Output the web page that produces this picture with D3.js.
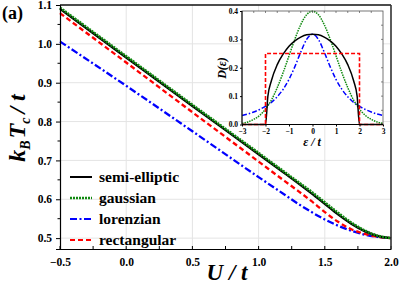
<!DOCTYPE html>
<html>
  <head>
    <meta charset="UTF-8" />
    <style>
      body { margin: 0; background: #fff; }
      svg { display: block; }
      svg text { font-family: "Liberation Serif", "Times New Roman", "DejaVu Serif", serif !important; font-weight: bold; fill: #000; }
    </style>
  </head>
  <body>
    <svg width="403" height="285"></svg>

    <script src="https://d3js.org/d3.v7.min.js"></script>
    <script>
      // main panel: k_B T_c / t against U / t
      let U = [-0.5, 0, 0.5, 1.0, 1.2, 1.3, 1.4, 1.5, 1.6, 1.7, 1.8, 1.9, 2.0];
      let semiTc = [1.090, 0.965, 0.840, 0.716, 0.666, 0.641, 0.615, 0.588, 0.561, 0.537, 0.518, 0.505, 0.500];
      let gaussTc = [1.093, 0.968, 0.843, 0.719, 0.669, 0.644, 0.619, 0.592, 0.565, 0.540, 0.520, 0.506, 0.500];
      let lorenTc = [1.006, 0.892, 0.775, 0.657, 0.611, 0.588, 0.567, 0.548, 0.532, 0.519, 0.509, 0.503, 0.500];
      let rectTc = [1.079, 0.952, 0.824, 0.697, 0.646, 0.621, 0.595, 0.567, 0.542, 0.523, 0.511, 0.503, 0.500];

      // inset: density of states D(eps)
      let eps = [-3, -2.75, -2.5, -2.25, -2, -1.9, -1.75, -1.5, -1.25, -1, -0.75, -0.5, -0.25, 0,
                 0.25, 0.5, 0.75, 1, 1.25, 1.5, 1.75, 1.9, 2, 2.25, 2.5, 2.75, 3];
      let semiD = [0, 0, 0, 0, 0, 0.099, 0.154, 0.211, 0.248, 0.276, 0.295, 0.308, 0.316, 0.318,
                   0.316, 0.308, 0.295, 0.276, 0.248, 0.211, 0.154, 0.099, 0, 0, 0, 0, 0];
      let gaussD = [0.004, 0.009, 0.018, 0.032, 0.054, 0.066, 0.086, 0.130, 0.183, 0.242, 0.301, 0.352, 0.387, 0.399,
                    0.387, 0.352, 0.301, 0.242, 0.183, 0.130, 0.086, 0.066, 0.054, 0.032, 0.018, 0.009, 0.004];
      let lorenD = [0.032, 0.037, 0.044, 0.053, 0.064, 0.069, 0.078, 0.098, 0.124, 0.159, 0.204, 0.255, 0.300, 0.318,
                    0.300, 0.255, 0.204, 0.159, 0.124, 0.098, 0.078, 0.069, 0.064, 0.053, 0.044, 0.037, 0.032];
      let rectEps = [-3, -2, -2, 2, 2, 3];
      let rectD = [0, 0, 0.25, 0.25, 0, 0];

      let xTicks = [-0.5, 0.0, 0.5, 1.0, 1.5, 2.0];
      let yTicks = [0.5, 0.6, 0.7, 0.8, 0.9, 1.0, 1.1];
      let ixTicks = [-3, -2, -1, 0, 1, 2, 3];
      let iyTicks = [0.0, 0.1, 0.2, 0.3, 0.4];

      let names = ["semi-elliptic", "gaussian", "lorenzian", "rectangular"];
      let colors = ["#000000", "#108a10", "#0000ff", "#ff0000"];
      let dashes = ["none", "2,1", "7,2.5,2,2.5", "5,3"];
      let widths = [2, 2.4, 2, 2];

      let svg = d3.select("svg");

      let x = d3.scaleLinear().domain([-0.5, 2.0]).range([60, 391]);
      let y = d3.scaleLinear().domain([0.472, 1.1]).range([249, 5]);

      // grid
      let grid = svg.append("g").attr("stroke", "#e4e4e4").attr("stroke-width", 1);
      grid.selectAll(".gx").data(xTicks.slice(1, -1)).enter().append("line")
        .attr("x1", d => x(d)).attr("x2", d => x(d)).attr("y1", y.range()[0]).attr("y2", y.range()[1]);
      grid.selectAll(".gy").data(yTicks.slice(0, -1)).enter().append("line")
        .attr("y1", d => y(d)).attr("y2", d => y(d)).attr("x1", x.range()[0]).attr("x2", x.range()[1]);

      // curves
      let mainSeries = [semiTc, gaussTc, lorenTc, rectTc];
      let line = d3.line().x(d => x(d[0])).y(d => y(d[1])).curve(d3.curveMonotoneX);
      [2, 3, 0, 1].forEach(i => {
        svg.append("path")
          .datum(U.map((u, j) => [u, mainSeries[i][j]]))
          .attr("fill", "none")
          .attr("stroke", colors[i])
          .attr("stroke-width", widths[i] + 0.3)
          .attr("stroke-dasharray", dashes[i])
          .attr("d", line);
      });

      // axes
      let xAxis = d3.axisBottom(x).tickValues(xTicks).tickFormat(d3.format(".1f")).tickSize(0).tickPadding(9);
      let gx = svg.append("g").attr("transform", "translate(0," + y.range()[0] + ")").call(xAxis);
      gx.select(".domain").attr("stroke", "#000").attr("stroke-width", 1.2);
      gx.selectAll("text").style("font-size", "11.5px");
      // bottom ticks point inward
      gx.selectAll(".mt").data(d3.range(-0.5, 2.001, 0.25)).enter().append("line")
        .attr("x1", d => x(d)).attr("x2", d => x(d)).attr("y1", 0).attr("y2", -3)
        .attr("stroke", "#000");

      let yAxis = d3.axisLeft(y).tickValues(yTicks).tickFormat(d3.format(".1f")).tickSize(4).tickPadding(4);
      let gy = svg.append("g").attr("transform", "translate(" + x.range()[0] + ",0)").call(yAxis);
      gy.select(".domain").attr("stroke", "#000").attr("stroke-width", 1.2);
      gy.selectAll("text").style("font-size", "11.5px");
      gy.selectAll(".mt").data(d3.range(0.55, 1.1, 0.1)).enter().append("line")
        .attr("x1", 0).attr("x2", -2.5).attr("y1", d => y(d)).attr("y2", d => y(d))
        .attr("stroke", "#000");

      // top and right border
      svg.append("line").attr("x1", 60).attr("x2", 391).attr("y1", 5).attr("y2", 5)
        .attr("stroke", "#111").attr("stroke-width", 1.6);
      svg.append("line").attr("x1", 391).attr("x2", 391).attr("y1", 5).attr("y2", 249)
        .attr("stroke", "#333").attr("stroke-width", 1.6);

      // axis titles
      svg.append("text").attr("x", 227).attr("y", 280).attr("text-anchor", "middle")
        .style("font-size", "23px").style("font-style", "italic").text("U / t");

      let yl = svg.append("text").attr("transform", "translate(25,128) rotate(-90)")
        .attr("text-anchor", "middle").style("font-size", "24px").style("font-style", "italic");
      yl.append("tspan").text("k");
      yl.append("tspan").attr("dy", 5).style("font-size", "14px").text("B");
      yl.append("tspan").attr("dy", -5).attr("dx", 2).text("T");
      yl.append("tspan").attr("dy", 5).style("font-size", "14px").text("c");
      yl.append("tspan").attr("dy", -5).attr("dx", 4).text("/ t");

      svg.append("text").attr("x", 2).attr("y", 19).style("font-size", "18px").text("(a)");

      // legend
      let legY = [177, 198, 219, 240];
      names.forEach((n, i) => {
        svg.append("line").attr("x1", 70).attr("x2", 92).attr("y1", legY[i]).attr("y2", legY[i])
          .attr("stroke", colors[i]).attr("stroke-width", widths[i]).attr("stroke-dasharray", dashes[i]);
        svg.append("text").attr("x", 99).attr("y", legY[i] + 5).style("font-size", "15.5px").text(n);
      });

      // inset
      let ix = d3.scaleLinear().domain([-3, 3]).range([242, 383]);
      let iy = d3.scaleLinear().domain([0, 0.4]).range([124.5, 11]);
      let inset = svg.append("g");
      inset.append("rect").attr("x", 242).attr("y", 11).attr("width", 141).attr("height", 113.5).attr("fill", "#fff");

      let iline = d3.line().x(d => ix(d[0])).y(d => iy(d[1])).curve(d3.curveMonotoneX);
      let rline = d3.line().x(d => ix(d[0])).y(d => iy(d[1]));
      let insetSeries = [
        eps.map((e, j) => [e, semiD[j]]),
        eps.map((e, j) => [e, gaussD[j]]),
        eps.map((e, j) => [e, lorenD[j]]),
        rectEps.map((e, j) => [e, rectD[j]])
      ];
      let insetDash = ["none", "1.5,1", "5,2,1.5,2", "4,2"];
      [2, 1, 0, 3].forEach(i => {
        inset.append("path")
          .datum(insetSeries[i])
          .attr("fill", "none")
          .attr("stroke", colors[i])
          .attr("stroke-width", i == 3 ? 1.6 : 1.5)
          .attr("stroke-dasharray", insetDash[i])
          .attr("d", i == 3 ? rline : iline);
      });

      inset.append("rect").attr("x", 242).attr("y", 11).attr("width", 141).attr("height", 113.5)
        .attr("fill", "none").attr("stroke", "#555").attr("stroke-width", 0.8);
      inset.append("line").attr("x1", 242).attr("x2", 242).attr("y1", 11).attr("y2", 124.5)
        .attr("stroke", "#000").attr("stroke-width", 1);
      inset.append("line").attr("x1", 242).attr("x2", 383).attr("y1", 124.5).attr("y2", 124.5)
        .attr("stroke", "#000").attr("stroke-width", 1);

      let igx = inset.append("g").attr("transform", "translate(0,124.5)")
        .call(d3.axisBottom(ix).tickValues(ixTicks).tickFormat(d3.format("d")).tickSize(2).tickPadding(2));
      igx.select(".domain").remove();
      igx.selectAll("text").style("font-size", "7.5px");
      let igy = inset.append("g").attr("transform", "translate(242,0)")
        .call(d3.axisLeft(iy).tickValues(iyTicks).tickFormat(d3.format(".1f")).tickSize(2).tickPadding(2));
      igy.select(".domain").remove();
      igy.selectAll("text").style("font-size", "7.5px");

      // small inward ticks on top and right of the inset
      inset.selectAll(".tt").data(d3.range(-2.5, 3, 0.5)).enter().append("line")
        .attr("x1", d => ix(d)).attr("x2", d => ix(d)).attr("y1", 11).attr("y2", 13)
        .attr("stroke", "#555").attr("stroke-width", 0.7);
      inset.selectAll(".rt").data(d3.range(0.05, 0.4, 0.05)).enter().append("line")
        .attr("y1", d => iy(d)).attr("y2", d => iy(d)).attr("x1", 383).attr("x2", 381)
        .attr("stroke", "#555").attr("stroke-width", 0.7);

      inset.append("text").attr("x", 312).attr("y", 146).attr("text-anchor", "middle")
        .style("font-size", "12px").style("font-style", "italic").text("ε / t");
      inset.append("text").attr("transform", "translate(226,68) rotate(-90)").attr("text-anchor", "middle")
        .style("font-size", "12px").style("font-style", "italic").text("D(ε)");
    </script>
  </body>
</html>
